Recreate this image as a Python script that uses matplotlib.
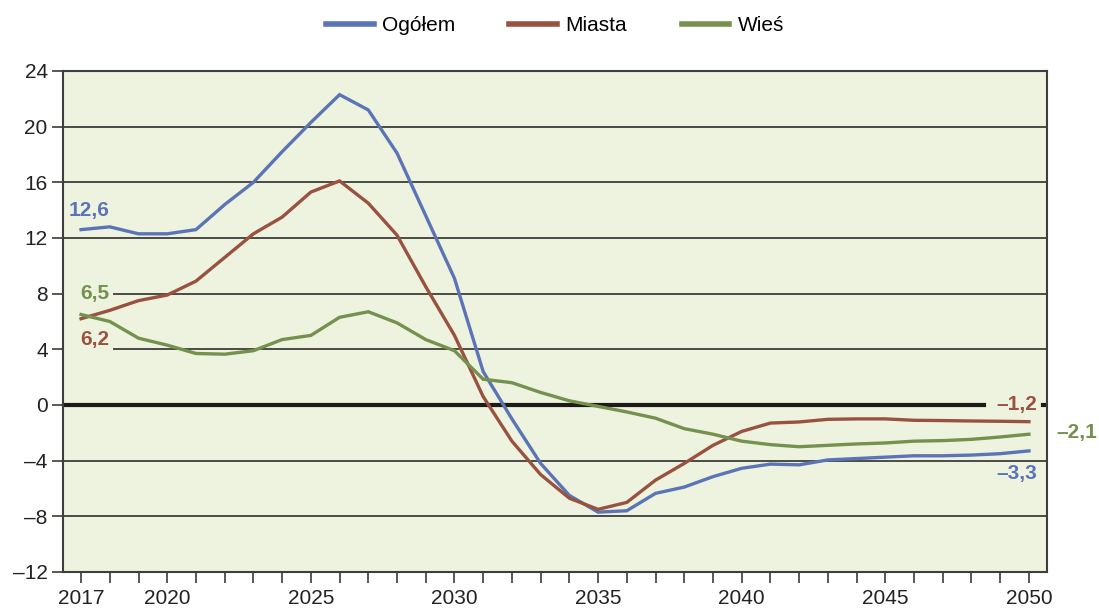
import matplotlib.pyplot as plt

plt.rcParams['font.family'] = ['Liberation Sans', 'DejaVu Sans']

# Data
years = list(range(2017, 2051))
ogolem = [12.6, 12.8, 12.3, 12.3, 12.6, 14.4, 16.0, 18.2, 20.3, 22.3,
          21.2, 18.1, 13.6, 9.1, 2.4, -1.0, -4.2, -6.5, -7.7, -7.6,
          -6.35, -5.9, -5.15, -4.55, -4.25, -4.3, -3.95, -3.85, -3.75, -3.65,
          -3.65, -3.6, -3.5, -3.3]
miasta = [6.2, 6.8, 7.5, 7.9, 8.9, 10.6, 12.3, 13.5, 15.3, 16.1,
          14.5, 12.2, 8.5, 5.0, 0.6, -2.6, -5.0, -6.7, -7.5, -7.0,
          -5.4, -4.2, -2.9, -1.9, -1.3, -1.22, -1.03, -1.0, -1.0, -1.1,
          -1.12, -1.15, -1.17, -1.2]
wies = [6.5, 6.0, 4.8, 4.3, 3.7, 3.65, 3.9, 4.7, 5.0, 6.3,
        6.7, 5.9, 4.7, 3.9, 1.85, 1.6, 0.9, 0.3, -0.1, -0.5,
        -0.95, -1.7, -2.1, -2.6, -2.85, -3.0, -2.9, -2.8, -2.73, -2.6,
        -2.56, -2.47, -2.3, -2.1]

series_names = ['Ogółem', 'Miasta', 'Wieś']
colors = ['#5b74b6', '#98523f', '#75914d']

y_ticks = [-12, -8, -4, 0, 4, 8, 12, 16, 20, 24]
y_labels = ['–12', '–8', '–4', '0', '4', '8', '12', '16', '20', '24']
x_label_years = [2017, 2020, 2025, 2030, 2035, 2040, 2045, 2050]

bg = '#eef3e0'
grid_col = '#4b4b45'

fig = plt.figure(figsize=(10.99, 6.12), dpi=100)
ax = fig.add_axes([0.0573, 0.0654, 0.8954, 0.8186])
ax.set_facecolor(bg)

ax.set_xlim(2016.37, 2050.63)
ax.set_ylim(-12, 24)

# horizontal grid lines (gaps where the labels sit)
for v in y_ticks:
    if v in (-12, 24):
        continue
    if v == 0:
        ax.axhline(0, xmax=0.936, color='#1e1a18', lw=3.0, zorder=2)
        ax.axhline(0, xmin=0.996, color='#1e1a18', lw=3.0, zorder=2)
    elif v in (4, 8):
        ax.axhline(v, xmin=0.052, color=grid_col, lw=1.4, zorder=1)
    else:
        ax.axhline(v, color=grid_col, lw=1.4, zorder=1)

lines = []
for vals, name, c in zip([ogolem, miasta, wies], series_names, colors):
    ln, = ax.plot(years, vals, color=c, lw=2.4, label=name, zorder=3,
                  solid_joinstyle='miter')
    lines.append(ln)

# value labels
lab = dict(fontsize=15, fontweight='bold')
ax.text(2017.28, 14.0, '12,6', color=colors[0], ha='center', va='center', **lab)
ax.text(2017.49, 8.0, '6,5', color=colors[2], ha='center', va='center', **lab)
ax.text(2017.49, 4.67, '6,2', color=colors[1], ha='center', va='center', **lab)
ax.text(2050.3, 0, '–1,2', color=colors[1], ha='right', va='center', **lab)
ax.text(2050.97, -2.0, '–2,1', color=colors[2], ha='left', va='center',
        clip_on=False, **lab)
ax.text(2050.3, -4.95, '–3,3', color=colors[0], ha='right', va='center', **lab)

ax.set_yticks(y_ticks)
ax.set_yticklabels(y_labels)
ax.set_xticks(years)
ax.set_xticklabels([str(y) if y in x_label_years else '' for y in years])

ax.tick_params(axis='y', direction='out', length=8, width=1.3,
               color=grid_col, labelsize=15, labelcolor='#222222', pad=3)
ax.tick_params(axis='x', direction='out', length=8, width=1.3,
               color=grid_col, labelsize=15, labelcolor='#222222', pad=4)

for s in ax.spines.values():
    s.set_color('#3e3e3a')
    s.set_linewidth(1.5)

leg = fig.legend(handles=lines, loc='upper center', bbox_to_anchor=(0.505, 1.004),
                 ncol=3, frameon=False, fontsize=15, handlelength=2.3,
                 handletextpad=0.4, columnspacing=2.6)
for h in leg.get_lines():
    h.set_linewidth(4)

fig.savefig('out.png', dpi=100, facecolor='white')
